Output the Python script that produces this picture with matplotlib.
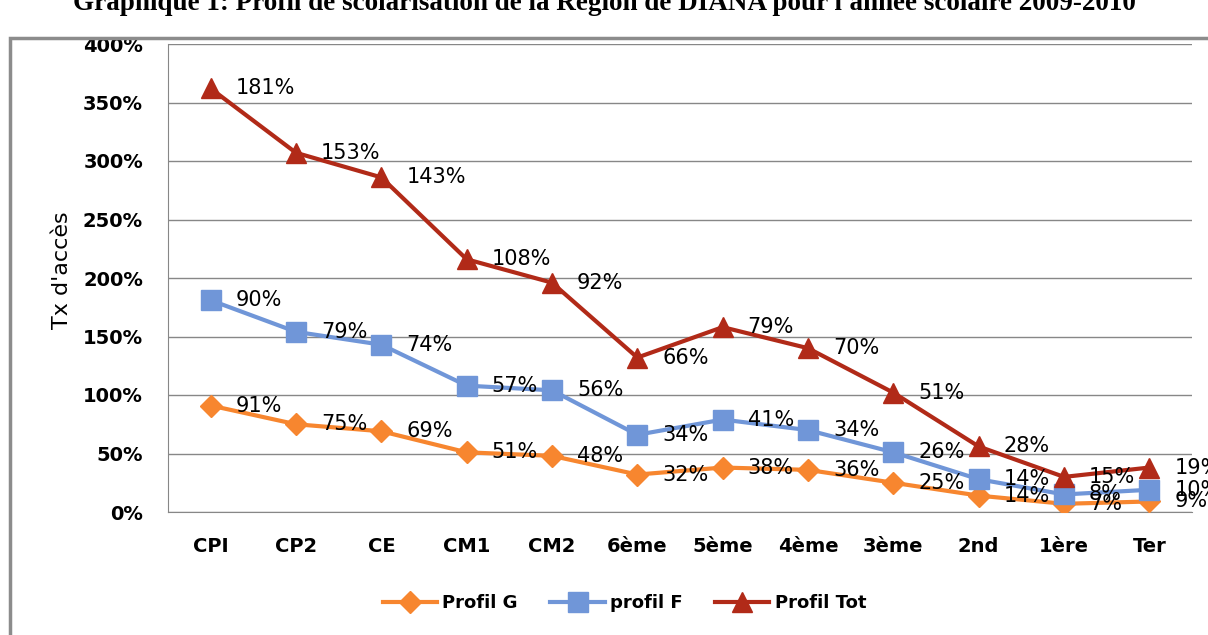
# coding: utf-8
import numpy as np
from matplotlib import pyplot as plt
from matplotlib.patches import Rectangle

plt.rcParams['font.family'] = ['DejaVu Sans']

# données : taux d'accès par niveau (en %)
niveaux = ['CPI', 'CP2', 'CE', 'CM1', 'CM2', '6ème', '5ème', '4ème', '3ème', '2nd', '1ère', 'Ter']
profil_g = [91, 75, 69, 51, 48, 32, 38, 36, 25, 14, 7, 9]
profil_f = [90, 79, 74, 57, 56, 34, 41, 34, 26, 14, 8, 10]
profil_tot = [181, 153, 143, 108, 92, 66, 79, 70, 51, 28, 15, 19]
graduations = [0, 50, 100, 150, 200, 250, 300, 350, 400]

titre = "Graphique 1: Profil de scolarisation de la Région de DIANA pour l'année scolaire 2009-2010"

# courbes empilées (comme dans le graphique Excel d'origine)
g = np.array(profil_g)
cum_f = g + np.array(profil_f)
cum_tot = cum_f + np.array(profil_tot)

fig = plt.figure(figsize=(12.08, 6.35), dpi=100)
ax = fig.add_axes([168 / 1208, 1 - 512 / 635, (1192 - 168) / 1208, (512 - 44) / 635])

x = np.arange(len(niveaux))
series = [
    (g, profil_g, '#F7862F', 'D', 11, 'Profil G'),
    (cum_f, profil_f, '#7096D8', 's', 14, 'profil F'),
    (cum_tot, profil_tot, '#B12A18', '^', 15, 'Profil Tot'),
]
for yy, vals, col, mk, ms, lab in series:
    ax.plot(x, yy, color=col, lw=3, marker=mk, ms=ms, label=lab, zorder=3)
    for xi, yi, v in zip(x, yy, vals):
        ax.annotate('%d%%' % v, (xi, yi), xytext=(18, 0), textcoords='offset points',
                    ha='left', va='center', fontsize=15, color='black',
                    annotation_clip=False, zorder=4)

ax.set_xlim(-0.5, len(niveaux) - 0.5)
ax.set_ylim(0, 400)
ax.set_yticks(graduations)
ax.set_yticklabels(['%d%%' % v for v in graduations], fontsize=14, fontweight='bold')
ax.set_xticks(x)
ax.set_xticklabels(niveaux, fontsize=14, fontweight='bold')
ax.tick_params(axis='y', length=0, pad=18)
ax.tick_params(axis='x', length=0, pad=18)
ax.grid(axis='y', color='#878787', lw=1)
ax.set_axisbelow(True)
for s in ['top', 'right']:
    ax.spines[s].set_visible(False)
for s in ['left', 'bottom']:
    ax.spines[s].set_color('#878787')

fig.text(62 / 1208, 1 - 270 / 635, "Tx d'accès", rotation=90, ha='center', va='center', fontsize=16)

leg = fig.legend(loc='center', bbox_to_anchor=(0.517, 1 - 603 / 635), ncol=3, frameon=False,
                 handlelength=3, handletextpad=0.3, columnspacing=1.8,
                 prop={'size': 13, 'weight': 'bold'})

# cadre gris autour du graphique (coupé à droite et en bas)
fig.patches.append(Rectangle((10 / 1208, -0.1), 1.2, 1.1 - 38 / 635, transform=fig.transFigure,
                             fill=False, edgecolor='#8c8c8c', lw=2.5))

# titre en partie coupé en haut de l'image
fig.text(0.5, 1 - 10 / 635, titre, ha='center', va='baseline', fontsize=19.5,
         fontweight='bold', family=['Liberation Serif'])

fig.savefig('out.png', dpi=100)
